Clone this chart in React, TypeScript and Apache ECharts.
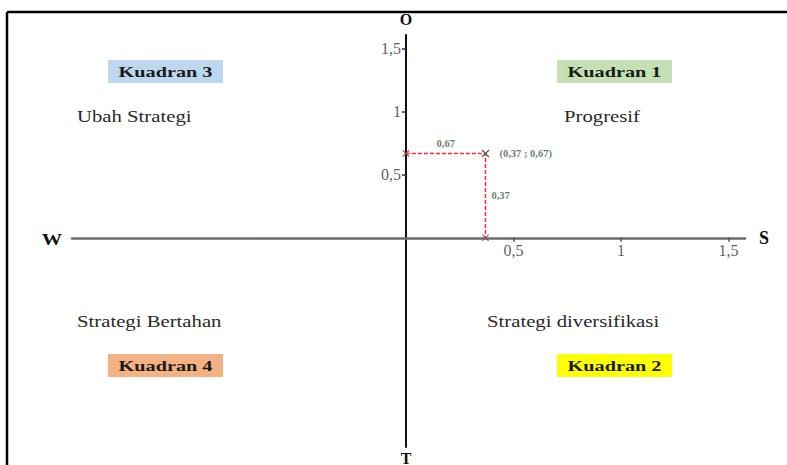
import React, { useEffect, useRef } from "react";
import * as echarts from "echarts";

// Data
const pointX = 0.37;
const pointY = 0.67;
const xTicks = [0.5, 1, 1.5];
const yTicks = [0.5, 1, 1.5];
const tickLabel = (v: number) => String(v).replace(".", ",");
const axisNames = { right: "S", left: "W", top: "O", bottom: "T" };
const quadrants = [
  { box: "Kuadran 3", strategy: "Ubah Strategi", color: "#bdd7ee" },
  { box: "Kuadran 1", strategy: "Progresif", color: "#c5e0b4" },
  { box: "Kuadran 4", strategy: "Strategi Bertahan", color: "#f4b183" },
  { box: "Kuadran 2", strategy: "Strategi diversifikasi", color: "#ffff00" },
];

const SERIF = "Liberation Serif";
const XPATH = "path://M0,1L1,0L5,4L9,0L10,1L6,5L10,9L9,10L5,6L1,10L0,9L4,5Z";

export default function App() {
  const ref = useRef<HTMLDivElement>(null);
  useEffect(() => {
    if (!ref.current) return;
    const chart = echarts.init(ref.current, null, { renderer: "svg" });
    const boxPos = [
      { x: 108, y: 60, tx: 77, ty: 116 },
      { x: 557, y: 60, tx: 564, ty: 116 },
      { x: 108, y: 354, tx: 77, ty: 321 },
      { x: 557, y: 354, tx: 487, ty: 321 },
    ];
    const txt = (x: number, y: number, text: string, size: number, weight: string, fill: string, align = "center", sx = 1) => ({
      type: "text", x, y, scaleX: sx,
      style: { text, fontFamily: SERIF, fontSize: size, fontWeight: weight, fill, align, verticalAlign: "middle" },
    });
    const graphics: any[] = [
      { type: "line", shape: { x1: 7, y1: 12, x2: 787, y2: 12 }, style: { stroke: "#000", lineWidth: 2.5 } },
      { type: "line", shape: { x1: 7, y1: 12, x2: 7, y2: 465 }, style: { stroke: "#000", lineWidth: 2.5 } },
      txt(52, 239, axisNames.left, 17, "bold", "#111", "center", 1.2),
      txt(406, 458, axisNames.bottom, 16, "bold", "#111"),
    ];
    quadrants.forEach((q, i) => {
      const p = boxPos[i];
      graphics.push({ type: "rect", shape: { x: p.x, y: p.y, width: 115, height: 23 }, style: { fill: q.color } });
      graphics.push(txt(p.x + 57.5, p.y + 12, q.box, 15, "bold", "#1a1a1a", "center", 1.35));
      graphics.push(txt(p.tx, p.ty, q.strategy, 17, "normal", "#2a2a2a", "left", 1.22));
    });

    const labelStyle = { fontFamily: SERIF, fontSize: 10.5, fontWeight: "bold", color: "#3d5c45" };
    const tickText = { fontFamily: SERIF, fontSize: 16, color: "#333" };

    chart.setOption({
      animation: false,
      grid: { left: 72, right: 42, top: 35, bottom: 18, containLabel: false },
      xAxis: {
        type: "value",
        min: -1.553,
        max: 1.577,
        name: axisNames.right,
        nameLocation: "end",
        nameGap: 14,
        nameTextStyle: { fontFamily: SERIF, fontSize: 18, fontWeight: "bold", color: "#111", verticalAlign: "middle" },
        axisLine: { onZero: true, lineStyle: { color: "#6b6b6b", width: 2.5 } },
        axisTick: { show: true, customValues: xTicks, length: 4, inside: false, lineStyle: { color: "#555", width: 1.5 } },
        axisLabel: { show: false },
        splitLine: { show: false },
      },
      yAxis: {
        type: "value",
        min: -1.66,
        max: 1.61,
        name: axisNames.top,
        nameLocation: "end",
        nameGap: 8,
        nameTextStyle: { fontFamily: SERIF, fontSize: 16, fontWeight: "bold", color: "#111" },
        axisLine: { onZero: true, lineStyle: { color: "#111", width: 2 } },
        axisTick: { show: true, customValues: yTicks, length: 4, inside: false, lineStyle: { color: "#333", width: 1.5 } },
        axisLabel: { show: false },
        splitLine: { show: false },
      },
      series: [
        {
          type: "line",
          data: [[0, pointY], [pointX, pointY], [pointX, 0]],
          lineStyle: { color: "#ff2a3a", width: 1.5, type: [4, 2] },
          symbol: XPATH,
          symbolSize: 7,
          itemStyle: { color: "#a04040" },
          z: 5,
        },
        {
          type: "scatter",
          symbol: XPATH,
          symbolSize: 8,
          itemStyle: { color: "#3d5c45" },
          data: [
            { value: [pointX, pointY], label: { show: true, position: "right", distance: 10, formatter: `(${tickLabel(pointX)} ; ${tickLabel(pointY)})`, ...labelStyle } },
          ],
          z: 6,
        },
        {
          type: "scatter",
          symbolSize: 0,
          data: [
            { value: [pointX / 2, pointY], label: { show: true, position: "top", distance: 4, formatter: tickLabel(pointY), ...labelStyle } },
            { value: [pointX, pointY / 2], label: { show: true, position: "right", distance: 6, formatter: tickLabel(pointX), ...labelStyle } },
          ],
          z: 6,
        },
        {
          type: "scatter",
          symbolSize: 0,
          silent: true,
          data: xTicks.map((v) => ({
            value: [v, 0],
            label: { show: true, position: "bottom", distance: 5, formatter: tickLabel(v), ...tickText },
          })),
        },
        {
          type: "scatter",
          symbolSize: 0,
          silent: true,
          data: yTicks.map((v) => ({
            value: [0, v],
            label: { show: true, position: "left", distance: 5, formatter: tickLabel(v), ...tickText },
          })),
        },
      ],
      graphic: graphics,
    });
    return () => chart.dispose();
  }, []);
  return (
    <div
      ref={ref}
      style={{ position: "fixed", left: 0, top: 0, width: 787, height: 465, background: "#fff" }}
    />
  );
}
